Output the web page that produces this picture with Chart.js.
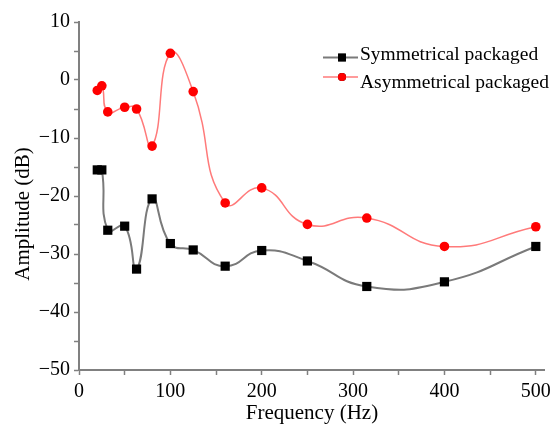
<!DOCTYPE html>
<html lang="en">
<head>
    <meta charset="UTF-8">
    <title>Amplitude vs Frequency</title>
    <script src="https://cdn.jsdelivr.net/npm/chart.js"></script>
    <style>
        body { margin: 0; background: #fff; }
    </style>
</head>
<body>
    <div style="width: 556px; height: 427px;">
        <canvas id="myChart" width="556" height="427"></canvas>
    </div>

<script>
    // 1/3 octave band centre frequencies (Hz)
    var freqs = [20, 25, 31.5, 50, 63, 80, 100, 125, 160, 200, 250, 315, 400, 500];
    // amplitudes (dB)
    var symValues  = [-15.5, -15.5, -25.9, -25.2, -32.6, -20.5, -28.2, -29.3, -32.1, -29.4, -31.2, -35.6, -34.8, -28.7];
    var asymValues = [-1.8, -1.0, -5.5, -4.7, -5.0, -11.4, 4.6, -2.0, -21.2, -18.6, -24.9, -23.8, -28.7, -25.3];
    var seriesNames = ["Symmetrical packaged", "Asymmetrical packaged"];
    var xTickStep = 50, yTickStep = 5;

    var serif = "'Liberation Serif', 'Times New Roman', serif";

    function f_points(p_vals){
        var v_pts = [];
        for(var i=0; i<freqs.length; i++){
            v_pts.push({x: freqs[i], y: p_vals[i]});
        }
        return v_pts;
    }

    // legend + y title drawn by hand so they sit where the figure has them
    var legendPlugin = {
        id: "insideLegend",
        afterDraw: function(chart){
            var ctx = chart.ctx;
            var rows = [{lineY: 57.5, textY: 60}, {lineY: 77, textY: 88}];
            ctx.save();
            chart.data.datasets.forEach(function(ds, i){
                var r = rows[i];
                ctx.strokeStyle = ds.borderColor;
                ctx.lineWidth = ds.borderWidth;
                ctx.beginPath();
                ctx.moveTo(323, r.lineY);
                ctx.lineTo(358, r.lineY);
                ctx.stroke();
                Chart.helpers.drawPoint(ctx, {
                    pointStyle: ds.pointStyle,
                    radius: ds.pointRadius * 0.85,
                    borderWidth: 0
                }, 342, r.lineY);
                ctx.fillStyle = ds.backgroundColor;
                ctx.fill();
                ctx.fillStyle = "#000";
                ctx.font = "19.5px " + serif;
                ctx.textAlign = "left";
                ctx.textBaseline = "alphabetic";
                ctx.fillText(ds.label, 360, r.textY);
            });
            ctx.translate(23, 214);
            ctx.rotate(-Math.PI / 2);
            ctx.textAlign = "center";
            ctx.textBaseline = "middle";
            ctx.fillStyle = "#000";
            ctx.font = "21px " + serif;
            ctx.fillText("Amplitude (dB)", 0, 0);
            ctx.restore();
        }
    };

    var axisGrid = {
        display: true,
        drawOnChartArea: false,
        drawTicks: true,
        tickLength: 5,
        tickColor: "#808080",
        tickWidth: 1.5
    };
    var axisBorder = { display: true, color: "#808080", width: 2 };

    const ctx = document.getElementById('myChart').getContext('2d');
    const myChart = new Chart(ctx, {
        type: 'line',
        data: {
            datasets: [{
                    label: seriesNames[0],
                    data: f_points(symValues),
                    borderColor: "#7a7a7a",
                    borderWidth: 2,
                    backgroundColor: "#000",
                    pointStyle: "rect",
                    pointRadius: 6.5,
                    pointBorderWidth: 0,
                    pointBackgroundColor: "#000",
                    tension: 0.5
                },
                {
                    label: seriesNames[1],
                    data: f_points(asymValues),
                    borderColor: "#ff7a7a",
                    borderWidth: 1.5,
                    backgroundColor: "#ff0000",
                    pointStyle: "circle",
                    pointRadius: 4.8,
                    pointBorderWidth: 0,
                    pointBackgroundColor: "#ff0000",
                    tension: 0.5
                }
            ]
        },
        options: {
            responsive: false,
            animation: false,
            layout: { padding: { left: 0, top: 22, right: 10, bottom: 0 } },
            plugins: {
                legend: { display: false },
                tooltip: { enabled: false }
            },
            scales: {
                x: {
                    type: 'linear',
                    min: 0,
                    max: 510,
                    grid: axisGrid,
                    border: axisBorder,
                    afterFit: function(scale){ scale.height = 57; },
                    ticks: {
                        stepSize: xTickStep,
                        includeBounds: false,
                        autoSkip: false,
                        maxRotation: 0,
                        padding: 5,
                        color: "#000",
                        font: { family: serif, size: 20 },
                        callback: function(v){ return v % 100 === 0 ? String(v) : ''; }
                    },
                    title: {
                        display: true,
                        text: "Frequency (Hz)",
                        color: "#000",
                        font: { family: serif, size: 21 },
                        padding: { top: 0, bottom: 1 }
                    }
                },
                y: {
                    min: -50,
                    max: 10,
                    grid: axisGrid,
                    border: axisBorder,
                    afterFit: function(scale){ scale.width = 79; },
                    ticks: {
                        stepSize: yTickStep,
                        autoSkip: false,
                        padding: 4,
                        color: "#000",
                        font: { family: serif, size: 20 },
                        callback: function(v){ return v % 10 === 0 ? String(v).replace('-', '\u2212') : ''; }
                    }
                }
            }
        },
        plugins: [legendPlugin]
    });
</script>
</body>
</html>
